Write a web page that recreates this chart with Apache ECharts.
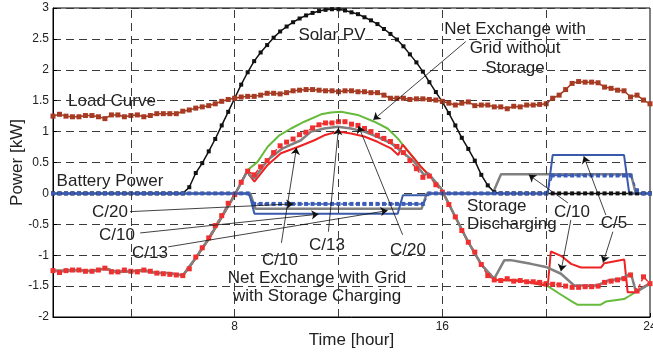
<!DOCTYPE html>
<html><head><meta charset="utf-8">
<script src="https://cdn.jsdelivr.net/npm/echarts@6/dist/echarts.min.js"></script>
<style>html,body{margin:0;padding:0;background:#fff}#c{width:653px;height:353px}</style>
</head><body><div id="c"></div>
<script>
// time grid (hours, 15-minute steps)
const hours = [1,1.25,1.5,1.75,2,2.25,2.5,2.75,3,3.25,3.5,3.75,4,4.25,4.5,4.75,5,5.25,5.5,5.75,
6,6.25,6.5,6.75,7,7.25,7.5,7.75,8,8.25,8.5,8.75,9,9.25,9.5,9.75,10,10.25,10.5,10.75,
11,11.25,11.5,11.75,12,12.25,12.5,12.75,13,13.25,13.5,13.75,14,14.25,14.5,14.75,
15,15.25,15.5,15.75,16,16.25,16.5,16.75,17,17.25,17.5,17.75,18,18.25,18.5,18.75,
19,19.25,19.5,19.75,20,20.25,20.5,20.75,21,21.25,21.5,21.75,22,22.25,22.5,22.75,
23,23.25,23.5,23.75,24];

const loadCurve = [1.25,1.28,1.25,1.24, 1.24,1.26,1.26,1.24, 1.21,1.27,1.27,1.24, 1.26,1.27,1.24,1.26,
1.29,1.29,1.29,1.29, 1.33,1.35,1.38,1.40, 1.42,1.45,1.49,1.52, 1.54,1.56,1.57,1.57,
1.59,1.62,1.62,1.61, 1.63,1.66,1.67,1.68, 1.68,1.67,1.66,1.66, 1.645,1.66,1.66,1.645,
1.645,1.63,1.63,1.59, 1.54,1.54,1.54,1.52, 1.53,1.53,1.52,1.51, 1.49,1.46,1.43,1.46,
1.48,1.42,1.43,1.43, 1.40,1.40,1.37,1.41, 1.40,1.43,1.43,1.44, 1.45,1.54,1.59,1.68,
1.78,1.81,1.80,1.80, 1.79,1.72,1.70,1.67, 1.66,1.56,1.59,1.51, 1.45];

const solarPV = [0,0,0,0, 0,0,0,0, 0,0,0,0, 0,0,0,0, 0,0,0,0,
0,0.10,0.33,0.49, 0.68,0.88,1.10,1.32, 1.54,1.76,1.96,2.14, 2.28,2.40,2.52,2.62,
2.70,2.77,2.83,2.88, 2.92,2.95,2.97,2.98, 2.98,2.96,2.93,2.90, 2.85,2.80,2.74,2.66,
2.58,2.49,2.38,2.25, 2.12,1.97,1.80,1.64, 1.48,1.30,1.10,0.90, 0.72,0.53,0.30,0.13,
0.02,0,0,0, 0,0,0,0, 0,0,0,0, 0,0,0,0, 0,0,0,0, 0,0,0,0, 0];

// net exchange with grid, storage C/20 (red squares)
const netC20 = [-1.25,-1.28,-1.25,-1.24, -1.24,-1.26,-1.26,-1.24, -1.21,-1.27,-1.27,-1.24, -1.26,-1.27,-1.24,-1.26,
-1.29,-1.30,-1.31,-1.32, -1.33,-1.22,-1.03,-0.88, -0.72,-0.52,-0.36,-0.16, -0.02,0.18,0.36,0.30,
0.43,0.53,0.66,0.77, 0.83,0.88,0.95,0.99, 1.06,1.11,1.14,1.14, 1.16,1.16,1.12,1.10,
1.05,1.00,0.94,0.89, 0.84,0.76,0.66,0.53, 0.40,0.26,0.28,0.14, 0.02,-0.18,-0.38,-0.60,
-0.79,-0.95,-1.15,-1.33, -1.40,-1.41,-1.38,-1.42, -1.41,-1.43,-1.43,-1.44, -1.46,-1.47,-1.48,-1.50,
-1.52,-1.52,-1.51,-1.51, -1.50,-1.44,-1.42,-1.40, -1.38,-1.32,-1.58,-1.35, -1.46];

// battery power, C/20 (blue squares)
const battC20 = [0,0,0,0, 0,0,0,0, 0,0,0,0, 0,0,0,0, 0,0,0,0, 0,0,0,0, 0,0,0,0, 0,0,0,-0.17,
-0.17,-0.17,-0.17,-0.17, -0.17,-0.17,-0.17,-0.17, -0.17,-0.17,-0.17,-0.17, -0.17,-0.17,-0.17,-0.17,
-0.17,-0.17,-0.17,-0.17, -0.17,-0.17,-0.17,-0.17, -0.17,-0.17,0,0, 0,0,0,0, 0,0,0,0, 0,0,0,0, 0,0,0,0,
0,0.29,0.29,0.29, 0.29,0.29,0.29,0.29, 0.29,0.29,0.29,0.29, 0.29,0.29,0.05,0, 0];

// net exchange without storage (green)
const netNoStorage = [[1,-1.25],[1.5,-1.25],[2,-1.24],[2.5,-1.26],[3,-1.21],[3.5,-1.27],[4,-1.26],[4.5,-1.24],
[5,-1.29],[5.5,-1.29],[6,-1.33],[6.5,-1.05],[7,-0.74],[7.5,-0.39],[8,-0.02],[8.5,0.38],[8.88,0.51],
[9.27,0.755],[9.72,0.94],[10.17,1.05],[10.68,1.16],[11.33,1.28],[11.7,1.31],[12.1,1.32],[12.74,1.27],
[13.38,1.16],[13.89,1.05],[14.28,0.89],[14.47,0.79],[15.18,0.43],[15.5,0.29],[15.95,0.08],[16.5,-0.38],
[17,-0.79],[17.5,-1.15],[18,-1.40],[19,-1.41],[20.06,-1.50],[20.5,-1.62],[21,-1.75],[21.2,-1.80],
[22.1,-1.80],[22.3,-1.75],[23.0,-1.71],[23.2,-1.66],[23.5,-1.58],[24,-1.46]];

// net exchange with storage C/10 charge, C/5 discharge (red line)
const netC10 = [[1,-1.25],[1.5,-1.25],[2,-1.24],[2.5,-1.26],[3,-1.21],[3.5,-1.27],[4,-1.26],[4.5,-1.24],
[5,-1.29],[5.5,-1.29],[6,-1.33],[6.5,-1.05],[7,-0.74],[7.5,-0.39],[8,-0.02],[8.5,0.38],[8.56,0.30],
[8.76,0.19],[9.27,0.46],[9.78,0.65],[10.43,0.75],[11.07,0.86],[11.45,0.94],[11.97,1.0],[12.48,0.97],
[12.99,0.92],[13.5,0.835],[14.02,0.73],[14.3,0.62],[14.47,0.79],[15.18,0.43],[15.5,0.29],[15.95,0.08],
[16.5,-0.38],[17,-0.79],[17.5,-1.15],[18,-1.40],[19,-1.41],[20.06,-1.50],[20.18,-0.94],[20.57,-1.01],
[20.96,-1.14],[21.34,-1.20],[22.11,-1.20],[22.24,-1.13],[23.01,-1.07],[23.14,-1.60],[23.39,-1.60],[24,-1.45]];

// net exchange with storage C/13 charge, C/10 discharge (gray line)
const netC13 = [[1,-1.25],[1.5,-1.25],[2,-1.24],[2.5,-1.26],[3,-1.22],[3.5,-1.27],[4,-1.26],[4.5,-1.25],
[5,-1.29],[5.5,-1.29],[6,-1.33],[6.5,-1.04],[7,-0.73],[7.5,-0.37],[8,-0.03],[8.5,0.37],[8.56,0.30],
[8.76,0.24],[9.27,0.54],[9.85,0.73],[10.55,0.86],[10.94,1.0],[11.45,1.05],[11.97,1.078],[12.48,1.05],
[12.99,1.0],[13.5,0.916],[14.02,0.81],[14.53,0.646],[14.92,0.51],[15.3,0.295],[15.45,0.33],[15.95,0.08],
[16.5,-0.38],[17,-0.79],[17.5,-1.15],[18.0,-1.38],[18.39,-1.08],[18.64,-1.08],[19.03,-1.11],[19.41,-1.14],
[19.99,-1.19],[20.57,-1.30],[21.08,-1.49],[21.98,-1.49],[22.37,-1.41],[22.88,-1.38],[23.27,-1.30],
[23.46,-1.60],[24,-1.46]];

// battery power C/13 charge, C/10 discharge (gray)
const battC13 = [[1,0],[8.6,0],[8.8,-0.25],[15.2,-0.25],[15.4,0],[17.94,0],[18.26,0.31],[23.27,0.31],[23.45,0],[24,0]];
// battery power C/10 charge, C/5 discharge (blue line)
const battC10 = [[1,0],[8.56,0],[8.76,-0.33],[14.28,-0.33],[14.48,-0.03],[15.43,-0.03],[15.55,0],[20.06,0],
[20.25,0.62],[23.0,0.62],[23.2,0],[24,0]];

const xGridLines = [4, 8, 12, 16, 20];
const xTickLabels = [8, 16, 24];

const FONT = '"Liberation Sans", Arial, Helvetica, sans-serif';
const zip = (xs, ys) => xs.map((t, i) => [t, ys[i]]);

// annotation arrows in data coordinates [[from],[to]]
const arrows = [
  [[3.97,-0.295],[10.26,-0.17]],
  [[4.36,-0.64],[11.23,-0.337]],
  [[5.44,-0.865],[13.89,-0.278]],
  [[9.80,-0.80],[10.38,0.74]],
  [[11.61,-0.62],[12.0,1.06]],
  [[14.47,-0.67],[12.77,1.09]],
  [[16.90,2.456],[13.34,1.19]],
  [[20.84,-0.154],[19.33,0.30]],
  [[20.95,-0.43],[20.57,-1.26]],
  [[22.3,-0.35],[21.45,0.60]],
  [[22.57,-0.62],[22.19,-1.12]]
];

const texts = [
  ['Solar PV',332,35,'center'],
  ['Load Curve',112,101,'center'],
  ['Battery Power',110,181,'center'],
  ['C/20',110,212,'center'],
  ['C/10',117,235,'center'],
  ['C/13',150,253,'center'],
  ['C/10',280,260,'center'],
  ['C/13',327,245,'center'],
  ['C/20',408,250,'center'],
  ['Net Exchange with Grid',317,278,'center'],
  ['with Storage Charging',317,296,'center'],
  ['Net Exchange with',515,29,'center'],
  ['Grid without',515,48.5,'center'],
  ['Storage',515,68.5,'center'],
  ['Storage',467,206,'left'],
  ['Discharging',467,224,'left'],
  ['C/10',572,212,'center'],
  ['C/5',614,223,'center']
];

const chart = echarts.init(document.getElementById('c'), null, {renderer: 'canvas'});
const lineBase = {type: 'line', animation: false, silent: true, symbol: 'none'};
const gridDash = {color: '#3a3a3a', width: 1, type: [8, 5]};

chart.setOption({
  backgroundColor: '#fff',
  animation: false,
  grid: {left: 53, right: 3, top: 8, bottom: 36, show: true, borderColor: '#000', borderWidth: 1,
         backgroundColor: 'transparent', outerBoundsMode: 'none'},
  xAxis: {
    type: 'value', min: 1, max: 24, interval: 1,
    name: 'Time [hour]', nameLocation: 'middle', nameGap: 15, nameMoveOverlap: false,
    nameTextStyle: {fontFamily: FONT, fontSize: 17, color: '#222'},
    axisLine: {show: true, onZero: false, lineStyle: {color: '#000', width: 1}},
    axisTick: {show: true, inside: true, length: 4, customValues: xGridLines.concat([24]), lineStyle: {color: '#000'}},
    axisLabel: {customValues: xTickLabels, margin: 4, fontFamily: FONT, fontSize: 12, color: '#222',
      formatter: v => (xTickLabels.indexOf(v) >= 0 ? String(v) : '')},
    splitLine: {show: false}
  },
  yAxis: {
    type: 'value', min: -2, max: 3, interval: 0.5,
    name: 'Power [kW]', nameLocation: 'middle', nameGap: 27, nameMoveOverlap: false,
    nameTextStyle: {fontFamily: FONT, fontSize: 17, color: '#222'},
    axisLine: {show: true, onZero: false, lineStyle: {color: '#000', width: 1}},
    axisTick: {show: true, inside: true, length: 4, lineStyle: {color: '#000'}},
    axisLabel: {margin: 4, fontFamily: FONT, fontSize: 12, color: '#222'},
    splitLine: {show: true, lineStyle: gridDash}
  },
  series: [
    Object.assign({}, lineBase, {name: 'grid', data: [],
      markLine: {silent: true, symbol: 'none', animation: false, label: {show: false},
        lineStyle: gridDash,
        data: xGridLines.map(x => ({xAxis: x}))}}),
    Object.assign({}, lineBase, {name: 'Solar PV', data: zip(hours, solarPV), symbol: 'rect', symbolSize: 4,
      showSymbol: true, lineStyle: {color: '#111', width: 1.5}, itemStyle: {color: '#111'}}),
    Object.assign({}, lineBase, {name: 'Load Curve', data: zip(hours, loadCurve), symbol: 'rect', symbolSize: 5,
      showSymbol: true, lineStyle: {color: '#a63a22', width: 1.5}, itemStyle: {color: '#a63a22'}}),
    Object.assign({}, lineBase, {name: 'Net no storage', data: netNoStorage,
      lineStyle: {color: '#66bb3c', width: 2}}),
    Object.assign({}, lineBase, {name: 'Net C/10', data: netC10,
      lineStyle: {color: '#ee2222', width: 2}}),
    Object.assign({}, lineBase, {name: 'Net C/20', data: zip(hours, netC20), symbol: 'rect', symbolSize: 5,
      showSymbol: true, lineStyle: {color: '#f02828', width: 1.5, type: [4, 3]}, itemStyle: {color: '#f03030'}}),
    Object.assign({}, lineBase, {name: 'Net C/13', data: netC13,
      lineStyle: {color: '#808080', width: 2.5}}),
    Object.assign({}, lineBase, {name: 'Batt C/13', data: battC13,
      lineStyle: {color: '#808080', width: 2.5}}),
    Object.assign({}, lineBase, {name: 'Batt C/10', data: battC10,
      lineStyle: {color: '#3a5bab', width: 2}}),
    Object.assign({}, lineBase, {name: 'Batt C/20', data: zip(hours, battC20), symbol: 'rect', symbolSize: 4,
      showSymbol: true, lineStyle: {color: '#3a5bb5', width: 1.5, type: [4, 3]}, itemStyle: {color: '#3a5bb5'}}),
    Object.assign({}, lineBase, {name: 'arrows', data: [],
      markLine: {silent: true, animation: false, symbol: ['none', 'arrow'], symbolSize: 7,
        label: {show: false}, lineStyle: {color: '#111', width: 0.8, type: 'solid'},
        data: arrows.map(a => [{coord: a[0]}, {coord: a[1]}])}})
  ],
  graphic: texts.map(t => ({
    type: 'text', x: t[1], y: t[2], silent: true,
    style: {text: t[0], font: '17px ' + FONT, fill: '#222', align: t[3], verticalAlign: 'middle',
            textAlign: t[3], textVerticalAlign: 'middle'}
  }))
});
</script></body></html>
